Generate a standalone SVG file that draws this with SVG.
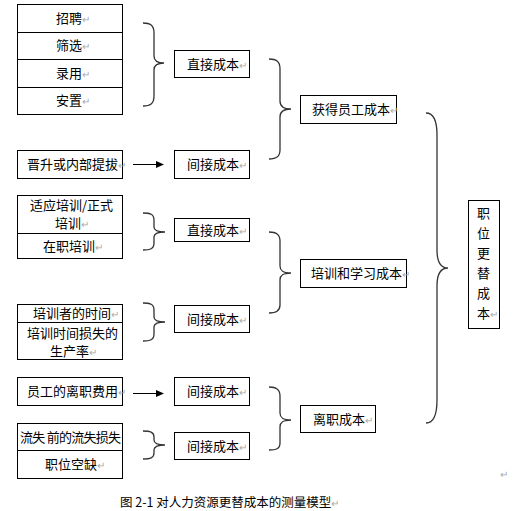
<svg xmlns="http://www.w3.org/2000/svg" width="513" height="511" viewBox="0 0 513 511">
<style>
.b{fill:#fff;stroke:#000;stroke-width:1}
.l{fill:none;stroke:#000;stroke-width:1}
.br{fill:none;stroke:#333;stroke-width:1.3}
text{font-family:"Noto Sans CJK SC","Liberation Sans",sans-serif;font-size:13px;fill:#000}
.p{fill:#aaa;font-size:10px}
.c{font-size:12.5px}
</style>
<defs>
<marker id="ah" markerWidth="8" markerHeight="8" refX="7" refY="4" orient="auto" markerUnits="userSpaceOnUse">
<path d="M0,0.5 L8,4 L0,7.5 Z" fill="#000"/>
</marker>
</defs>
<rect width="513" height="511" fill="#fff"/>

<g id="recruit-group">
<rect class="b" x="17.5" y="4.5" width="105" height="110"/>
<line class="l" x1="17.5" y1="32.5" x2="122.5" y2="32.5"/>
<line class="l" x1="17.5" y1="59.5" x2="122.5" y2="59.5"/>
<line class="l" x1="17.5" y1="87.5" x2="122.5" y2="87.5"/>
<text x="56" y="23">招聘<tspan class="p">↵</tspan></text>
<text x="56" y="50">筛选<tspan class="p">↵</tspan></text>
<text x="56" y="78">录用<tspan class="p">↵</tspan></text>
<text x="56" y="105">安置<tspan class="p">↵</tspan></text>
</g>
<g id="direct1"><rect class="b" x="174.5" y="50.5" width="75" height="27"/><text x="187" y="68.5">直接成本<tspan class="p">↵</tspan></text></g>

<g id="promotion"><rect class="b" x="17.5" y="150.5" width="105" height="28"/><text x="27" y="169">晋升或内部提拔<tspan class="p">↵</tspan></text></g>
<g id="indirect1"><rect class="b" x="174.5" y="150.5" width="75" height="28"/><text x="187" y="169">间接成本<tspan class="p">↵</tspan></text></g>

<g id="acquire"><rect class="b" x="300.5" y="95.5" width="96" height="28"/><text x="312" y="114">获得员工成本<tspan class="p">↵</tspan></text></g>

<g id="training-group">
<rect class="b" x="17.5" y="195.5" width="105" height="63"/>
<line class="l" x1="17.5" y1="233.5" x2="122.5" y2="233.5"/>
<text x="30" y="210">适应培训/正式</text>
<text x="55" y="228">培训<tspan class="p">↵</tspan></text>
<text x="43" y="251">在职培训<tspan class="p">↵</tspan></text>
</g>
<g id="direct2"><rect class="b" x="174.5" y="218.5" width="75" height="23"/><text x="187" y="234.5">直接成本<tspan class="p">↵</tspan></text></g>

<g id="trainee-group">
<rect class="b" x="17.5" y="304.5" width="105" height="55"/>
<line class="l" x1="17.5" y1="322.5" x2="122.5" y2="322.5"/>
<text x="33" y="318">培训者的时间<tspan class="p">↵</tspan></text>
<text x="27" y="338">培训时间损失的</text>
<text x="50" y="356">生产率<tspan class="p">↵</tspan></text>
</g>
<g id="indirect2"><rect class="b" x="174.5" y="305.5" width="75" height="27"/><text x="187" y="323.5">间接成本<tspan class="p">↵</tspan></text></g>

<g id="learning"><rect class="b" x="300.5" y="259.5" width="106" height="28"/><text x="311" y="278">培训和学习成本<tspan class="p">↵</tspan></text></g>

<g id="leave-fee"><rect class="b" x="17.5" y="377.5" width="105" height="28"/><text x="27" y="396">员工的离职费用<tspan class="p">↵</tspan></text></g>
<g id="indirect3"><rect class="b" x="174.5" y="377.5" width="75" height="28"/><text x="187" y="396">间接成本<tspan class="p">↵</tspan></text></g>

<g id="loss-group">
<rect class="b" x="17.5" y="423.5" width="105" height="55"/>
<line class="l" x1="17.5" y1="450.5" x2="122.5" y2="450.5"/>
<text x="20" y="442" textLength="101">流失 前的流失损失</text>
<text x="45" y="469">职位空缺<tspan class="p">↵</tspan></text>
</g>
<g id="indirect4"><rect class="b" x="174.5" y="432.5" width="75" height="27"/><text x="187" y="450.5">间接成本<tspan class="p">↵</tspan></text></g>

<g id="separation"><rect class="b" x="300.5" y="405.5" width="75" height="27"/><text x="313" y="423.5">离职成本<tspan class="p">↵</tspan></text></g>

<g id="replacement">
<rect class="b" x="468.5" y="200.5" width="31" height="128"/>
<text x="477" y="218">职</text>
<text x="477" y="238">位</text>
<text x="477" y="258">更</text>
<text x="477" y="278">替</text>
<text x="477" y="298">成</text>
<text x="477" y="318">本<tspan class="p">↵</tspan></text>
</g>

<g id="connectors">
<line class="l" x1="133" y1="164.5" x2="163" y2="164.5" marker-end="url(#ah)"/>
<line class="l" x1="133" y1="393.5" x2="163" y2="393.5" marker-end="url(#ah)"/>
<path class="br" d="M143,23 C150,23 154,25 154,33 L154,56 C154,61 157,63 164,63 C157,63 154,65 154,70 L154,96 C154,104 150,106 143,106"/>
<path class="br" d="M143,213 C150,213 154,214 154,220 L154,227 C154,230 157,232 165,232 C157,232 154,234 154,237 L154,243 C154,249 150,250 143,250"/>
<path class="br" d="M143,303 C150,303 154,304 154,310 L154,317 C154,320 157,322 165,322 C157,322 154,324 154,327 L154,334 C154,340 150,341 143,341"/>
<path class="br" d="M143,431 C150,431 154,432 154,437 L154,440 C154,443 157,445 165,445 C157,445 154,447 154,450 L154,453 C154,458 150,459 143,459"/>
<path class="br" d="M269,59 C276,59 280,61 280,69 L280,101 C280,106 283,109 291,109 C283,109 280,112 280,117 L280,150 C280,157 276,159 269,159"/>
<path class="br" d="M269,232 C276,232 280,234 280,241 L280,266 C280,271 283,273 291,273 C283,273 280,275 280,280 L280,305 C280,311 276,313 269,313"/>
<path class="br" d="M269,387 C276,387 280,389 280,396 L280,413 C280,418 283,420 291,420 C283,420 280,422 280,427 L280,443 C280,449 276,450 269,450"/>
<path class="br" d="M426,113 C433,113 437,120 437,135 L437,250 C437,262 441,268 448,268 C441,268 437,274 437,286 L437,400 C437,416 433,423 426,423"/>
</g>

<text class="c" x="120" y="507">图 2-1 对人力资源更替成本的测量模型<tspan class="p">↵</tspan></text>
<text class="p" x="500" y="478">↵</text>
</svg>
